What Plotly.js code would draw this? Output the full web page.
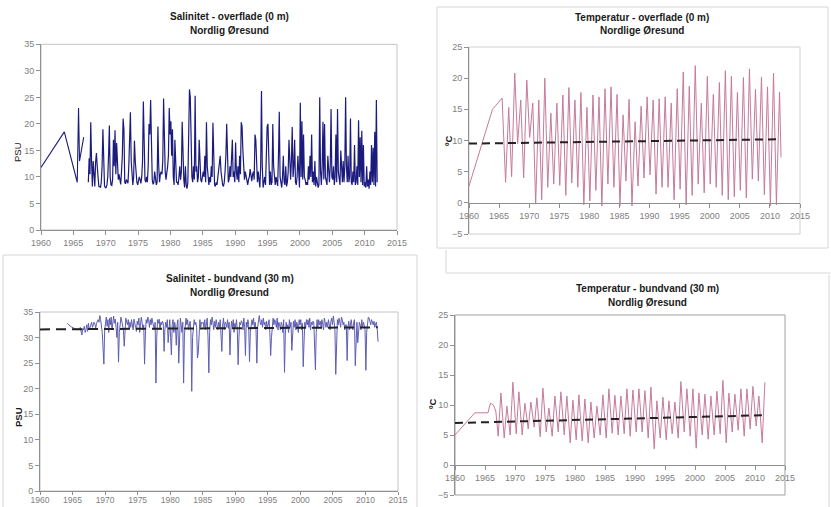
<!DOCTYPE html>
<html><head><meta charset="utf-8">
<script src="https://cdn.plot.ly/plotly-3.0.1.min.js"></script>
<style>html,body{margin:0;padding:0;background:#fff}#chart{width:831px;height:507px}</style>
</head><body><div id="chart"></div>
<script>
// ---------------- DATA ----------------
// Panel 1: Salinitet - overflade (0 m)
const sal0EarlyX = [1960, 1963.6, 1965.6, 1965.8, 1965.95, 1966.6];
const sal0EarlyY = [11.8, 18.5, 9.0, 23.0, 13.0, 17.5];
const sal0Start = 1967; // rows: 8 samples per year
const sal0Rows = [
 [null,null,9,13.5,10.5,20.3,13,8.2],
 [13,11,8.2,12.8,14.5,12,9,8.2],
 [8.2,8.0,9,12,19,10,8.3,8.0],
 [8.0,8.5,10,14,19.7,10,8.5,8.4],
 [9.5,17,12,18.8,10.5,16.4,11,9.5],
 [10.5,9.5,8.6,11,14,21,19,9],
 [8.7,9.5,9,8.8,12,16,22.2,13],
 [9,8.5,10,16.8,13,9.5,9,8.5],
 [9.2,10,9.5,8.8,10,13,24.2,15],
 [9.5,9,10,9,12,20,18,24.5],
 [14,9.5,8.6,9,11,10,8.5,9],
 [19.5,12,9,10.5,11,10.5,13,24.8],
 [16,11,9.5,10.5,12,14,23,18],
 [20.5,14,19,10,8.5,17,10,9],
 [9,8.5,10,12,9.5,11,20.4,12],
 [9.5,8,12,8.5,7.8,9,15,26.5],
 [25,15,10,9,12,9.5,25.3,11],
 [12,9,10,17,11,9.5,9,10],
 [11,10,14,9,20.3,12,9,8.5],
 [10,9,12,10,20.2,11,8.5,8.2],
 [9,8.5,10,12,13,14,11,9.5],
 [8.5,8.2,9,11,14,20,12,9],
 [9.5,12,10,15,17,10,11,9],
 [16.5,11,9.5,12,9,14,10.5,20.3],
 [19.5,15,10,9.5,11,10,9,8.5],
 [9.5,10,11.5,10,9.2,10.5,11,9.5],
 [18,17,10,9,11,8.5,8,12],
 [26.2,12,8,9,10,8.5,18,19.5],
 [20,9.5,8.5,11,8.5,9,20,12],
 [9,8.5,10,9,8.3,14,22.3,10],
 [9,8,10,14,9,8.5,12,8.2],
 [9,11,17,10,9.5,13,19.4,10],
 [12,17,9,8.5,10,14,9,8],
 [24,10,20.5,9.5,18,10,9.5,8.5],
 [9,8.5,12,9.5,14,10,18,9],
 [11,8.5,13,8.2,10,9,8,8.5],
 [25,11,8.5,12,20.4,9.5,20,10],
 [9,8.5,14,10,9,12,22.8,10],
 [9.5,12,8.5,10,18,9,22.8,11],
 [9,8.5,15,10,9,13,9,12],
 [25,12,9,14,9,10,21,9],
 [8.5,11,9,16,8.5,9,12,8.5],
 [20.7,10,17.5,9,18.7,8.5,16,8.2],
 [9,8,12,8.2,9.5,7.8,11,8.5],
 [16,9,15.5,8.5,18.5,8.2,24.5,9]
];

// Panel 2: Temperatur - overflade (0 m)
const temp0EarlyX = [1960, 1963.9, 1965.5];
const temp0EarlyY = [2.7, 15.0, 16.8];
const temp0Start = 1966;
const temp0Min = [3.3,4.2,9.5,4,10.5,-0.2,0.5,2.5,3,2.8,1.2,3.2,2.5,-0.3,0.3,2,-0.5,3,2.5,-0.5,3.5,-0.5,2.7,4,4.5,1.4,2.5,2.5,0.5,2.2,-0.3,1.2,3,1.6,3,2.5,1.2,0.5,1,2,0.8,3.8,3.5,1.3,-0.5,-0.3];
const temp0Max = [15.3,20.8,16.5,19.7,16,16.5,20,14.4,16,17.3,18.5,16.5,17.7,15.3,17.3,17,18.3,18.6,17.4,14.1,16.6,13,15.5,17,16.5,16.7,17,16,18.3,21,18.7,22,16,20.3,17.4,19.3,21.2,20.3,17.7,20.1,21.5,18.2,20.2,18.6,20.8,17.8];
const temp0EndX = 2011.85, temp0EndY = 7.3;
const temp0TrendX = [1960, 2011.8];
const temp0TrendY = [9.5, 10.2];

// Panel 3: Salinitet - bundvand (30 m)
const sal30Start = 1964;
const sal30Rows = [
 [null,32.8,32.6,32.5,32.3,32.2,32.1,32.0],
 [31.9,31.8,31.8,31.7,31.7,31.6,31.5,31.8],
 [31.5,32,31.2,30.5,31.8,31.5,32.2,31],
 [31.6,32.5,31.2,32.8,31.5,32,32.4,33],
 [32,32.5,33,32.6,31.8,32.8,33.2,33.5],
 [33,34.3,33.5,32,31,28,24.8,31.5],
 [33.5,34,32.2,33.5,31,33.8,32.5,34],
 [31.5,33.5,34.2,32.8,33.6,32,30,33],
 [25.2,31,33.5,34,33.2,32.5,31.5,28.3],
 [32,33.8,33,32.5,33.5,31.8,33,32],
 [33.5,32.8,31.5,33.6,33,32,31.2,33.2],
 [32.5,33.8,31,32.5,34,33,31.5,32.5],
 [24.8,30.5,33.5,32.8,34,33.5,32,33.5],
 [32.5,33.8,33,32,31.5,33,21.1,30],
 [33.5,32.8,33.6,31.5,33,32.5,33.2,32.8],
 [27.3,31.5,33,32,33.5,29,32.5,33.5],
 [30,26.6,32.5,33.5,31,33,32,28.5],
 [32.5,33.5,25,32,33.8,32.5,31,33],
 [21.1,30.5,33,33.8,32.5,33.5,31.5,32.5],
 [33.2,31,19.5,30,33,33.5,32.5,33],
 [32,26,27,32.5,33.5,32,33,32.8],
 [33,32,33.5,31.5,32.5,33.8,30,23.1],
 [31,33.5,32.5,34,33,31.5,33.2,32],
 [33.5,32.5,31.5,33,32,33.5,31,27.3],
 [32.5,33.8,31.5,33,32.8,32,33.5,31.8],
 [33,26.6,31.5,33.2,32,33.5,31,32.8],
 [32,33.5,31.5,24.7,30,33,32.5,33.3],
 [33,31.5,33.8,32,26.5,33,32,33.5],
 [32.5,25.3,31,33,33.5,32.5,33.8,32],
 [33,31.5,25,32,33.5,34.3,33,32.5],
 [33.5,32,33.8,32.5,33,31.5,33.2,32],
 [32.5,33.5,31,26.5,30,33.5,33.8,32.5],
 [33.5,33,32,33.8,31.5,33,32.5,31.5],
 [33,32.5,31,33.5,23.2,30.5,33,32],
 [32.5,31,33.5,32,33,27.5,31.5,33.2],
 [32,33.5,31.5,33,32.5,31,33.5,32.5],
 [33.5,31.5,32.8,24.3,29,33,32,33.5],
 [32.5,33.5,32,33.8,31.5,33,32.5,33.2],
 [33,24.5,23.7,31,33.5,32,33.5,32.5],
 [33.2,32,33.5,32.5,31.5,33.8,32.8,32],
 [33,32,33.5,32.8,31.5,33.2,33.8,32.5],
 [34.2,33,31.5,22.8,31,33.5,32.5,33.8],
 [33,32,34,33.5,32.5,33,31.5,32.5],
 [32.5,25.5,32,33.2,31.5,32.8,33.5,32],
 [31.5,33,33.5,24.5,30.5,33,29,32.5],
 [33,32.5,31.5,33.5,32,33,32.5,31.5],
 [23.6,31,33.5,34,33.8,33,32.5,33.5],
 [33,32.5,33.2,32,32.8,33,31.5,29.2]
];
const sal30TrendX = [1960, 2011.9];
const sal30TrendY = [31.6, 32.0];

// Panel 4: Temperatur - bundvand (30 m)
const temp30EarlyX = [1960, 1963.3, 1965.5, 1965.9, 1966.4, 1966.8];
const temp30EarlyY = [5.0, 8.7, 8.7, 10.3, 10.0, 9.0];
const temp30Start = 1967;
const temp30Min = [4.8,4.5,5,5.2,5,6,6.3,4.7,5.5,4.8,5.5,5,3.7,4.2,4,3.7,4.5,5,4.5,5.3,5,5.2,4.8,5.5,5.5,4.5,2.7,4.5,4.2,5.2,4.5,5.5,4.8,2.8,5,4.3,5,5.2,3.7,5.5,5.8,4.8,6,6.5,3.7];
const temp30Max = [12,9.8,13.8,12.2,10.3,10.5,11.2,12.8,9.5,11.5,12.2,11.5,10.8,11.7,11,10.5,9.8,11.7,12.7,11.6,11.5,12.7,12.5,12.7,12.4,13,10.7,11.3,10.7,10.5,13.9,12.7,12.7,12,11.8,11.5,12.3,14.1,12,11.8,12.7,12.7,13.1,11.5,13.8];
const temp30TrendX = [1960, 2011.7];
const temp30TrendY = [7.0, 8.3];

const xTicks = [1960,1965,1970,1975,1980,1985,1990,1995,2000,2005,2010,2015];

// ---------------- BUILD ----------------
function fromRows(start, rows){
  const xs=[], ys=[];
  rows.forEach((r,k)=>r.forEach((v,i)=>{ if(v!==null){ xs.push(start+k+(i+0.5)/r.length); ys.push(v);} }));
  return [xs, ys];
}
function fromMinMax(start, mins, maxs, tMin, tMax){
  const xs=[], ys=[];
  mins.forEach((m,k)=>{ xs.push(start+k+tMin, start+k+tMax); ys.push(m, maxs[k]); });
  return [xs, ys];
}
const [s0x, s0y] = fromRows(sal0Start, sal0Rows);
const [t0x, t0y] = fromMinMax(temp0Start, temp0Min, temp0Max, 0.08, 0.6);
const [s30x, s30y] = fromRows(sal30Start, sal30Rows);
const [t30x, t30y] = fromMinMax(temp30Start, temp30Min, temp30Max, 0.2, 0.65);

const navy = '#1b1b7e', lblue = '#5d5db2', pink = '#c67a9b';
const traces = [
  {x: sal0EarlyX, y: sal0EarlyY, xaxis:'x', yaxis:'y', mode:'lines', line:{color:navy, width:1.1}},
  {x: s0x, y: s0y, xaxis:'x', yaxis:'y', mode:'lines', line:{color:navy, width:1.2}},
  {x: temp0EarlyX.concat(t0x, [temp0EndX]), y: temp0EarlyY.concat(t0y, [temp0EndY]), xaxis:'x2', yaxis:'y2', mode:'lines', line:{color:pink, width:1}},
  {x: temp0TrendX, y: temp0TrendY, xaxis:'x2', yaxis:'y2', mode:'lines', line:{color:'#222', width:2, dash:'8px,5px'}},
  {x: s30x, y: s30y, xaxis:'x3', yaxis:'y3', mode:'lines', line:{color:lblue, width:1}},
  {x: sal30TrendX, y: sal30TrendY, xaxis:'x3', yaxis:'y3', mode:'lines', line:{color:'#222', width:2, dash:'10px,6px'}},
  {x: temp30EarlyX.concat(t30x), y: temp30EarlyY.concat(t30y), xaxis:'x4', yaxis:'y4', mode:'lines', line:{color:pink, width:1}},
  {x: temp30TrendX, y: temp30TrendY, xaxis:'x4', yaxis:'y4', mode:'lines', line:{color:'#222', width:2, dash:'8px,5px'}}
];

// ---------------- LAYOUT ----------------
const W=831, H=507;
const fx = p => p/W, fy = p => 1 - p/H;
const FONT = 'Liberation Sans, Arial, sans-serif';
const tickFont = {family: FONT, size: 9, color: '#808080'};

function xa(dom, anchor, pos, extra){
  const a = {domain: dom, range:[1960,2015], tickvals: xTicks, ticks:'outside', ticklen:4,
    tickcolor:'#909090', showline:true, linecolor:'#909090', linewidth:1, showgrid:false,
    zeroline:false, tickfont: tickFont, fixedrange:true};
  if (anchor==='free'){ a.anchor='free'; a.position=pos; } else a.anchor=anchor;
  return Object.assign(a, extra||{});
}
function ya(dom, anchor, range){
  return {domain: dom, anchor: anchor, range: range, dtick:5, tick0:0, ticks:'outside', ticklen:4,
    tickcolor:'#909090', showline:true, linecolor:'#909090', linewidth:1, showgrid:false,
    zeroline:false, tickfont: tickFont, fixedrange:true};
}
const d1x=[fx(41), fx(397)], d1y=[fy(230), fy(44.3)];
const d2x=[fx(469), fx(800)], d2y=[fy(234), fy(47)];
const d3x=[fx(40), fx(398)], d3y=[fy(491), fy(312)];
const d4x=[fx(455), fx(785)], d4y=[fy(495), fy(315)];
const zeroPos = (d, lo, hi) => d[0] + (0-lo)/(hi-lo)*(d[1]-d[0]);

function title(x, y, text){
  return {xref:'paper', yref:'paper', x: fx(x), y: fy(y), text:'<b>'+text+'</b>', showarrow:false,
    xanchor:'center', yanchor:'middle', font:{family: FONT, size:10, color:'#1a1a1a'}};
}
function ytitle(x, y, text, bold){
  return {xref:'paper', yref:'paper', x: fx(x), y: fy(y), text: bold? '<b>'+text+'</b>' : text, showarrow:false,
    textangle:-90, xanchor:'center', yanchor:'middle', font:{family: FONT, size:9.5, color:'#1a1a1a'}};
}
function rectD(xr, yr, color){
  return {type:'rect', xref: xr+' domain', yref: yr+' domain', x0:0, x1:1, y0:0, y1:1,
    line:{color: color, width:1}, layer:'below'};
}
function rectP(x0,y0,x1,y1,color){
  return {type:'rect', xref:'paper', yref:'paper', x0:fx(x0), x1:fx(x1), y0:fy(y1), y1:fy(y0),
    line:{color: color, width:1}, layer:'below'};
}
function lineP(x0,y0,x1,y1,color){
  return {type:'line', xref:'paper', yref:'paper', x0:fx(x0), x1:fx(x1), y0:fy(y0), y1:fy(y1),
    line:{color: color, width:1}, layer:'below'};
}

const layout = {
  width: W, height: H, margin:{l:0,r:0,t:0,b:0}, showlegend:false,
  paper_bgcolor:'#ffffff', plot_bgcolor:'rgba(0,0,0,0)',
  font:{family: FONT},
  xaxis: xa(d1x, 'y'), yaxis: ya(d1y, 'x', [0,35]),
  xaxis2: xa(d2x, 'free', zeroPos(d2y,-5,25)), yaxis2: ya(d2y, 'x2', [-5,25]),
  xaxis3: xa(d3x, 'y3', null, {ticklen:3, ticklabelstandoff:-2, tickfont:{family: FONT, size: 8.5, color: '#808080'}}),
  yaxis3: ya(d3y, 'x3', [0,35]),
  xaxis4: xa(d4x, 'free', zeroPos(d4y,-5,25)), yaxis4: ya(d4y, 'x4', [-5,25]),
  annotations: [
    title(229, 16.5, 'Salinitet - overflade (0 m)'), title(229, 30.5, 'Nordlig Øresund'),
    title(642, 18, 'Temperatur - overflade (0 m)'), title(642, 31, 'Nordlige Øresund'),
    title(230, 278, 'Salinitet - bundvand (30 m)'), title(230, 292, 'Nordlig Øresund'),
    title(647, 288, 'Temperatur - bundvand (30 m)'), title(647, 302, 'Nordlig Øresund'),
    ytitle(17, 152, 'PSU', false),
    ytitle(448, 141, 'ºC', true),
    ytitle(18, 417, 'PSU', true),
    ytitle(432, 404, 'ºC', true)
  ],
  shapes: [
    rectD('x','y','#c4c4c4'),
    rectD('x2','y2','#d0d0d0'),
    rectD('x3','y3','#c4c4c4'),
    rectD('x4','y4','#a0a0a0'),
    rectP(437, 7, 828, 248, '#d6d6d6'),
    rectP(3, 255, 417, 512, '#d6d6d6'),
    lineP(446, 250, 446, 273, '#d6d6d6'),
    lineP(446, 273, 831, 273, '#d6d6d6'),
    lineP(829, 275, 829, 507, '#d6d6d6')
  ]
};

Plotly.newPlot('chart', traces, layout, {staticPlot:true, displayModeBar:false});
</script></body></html>
